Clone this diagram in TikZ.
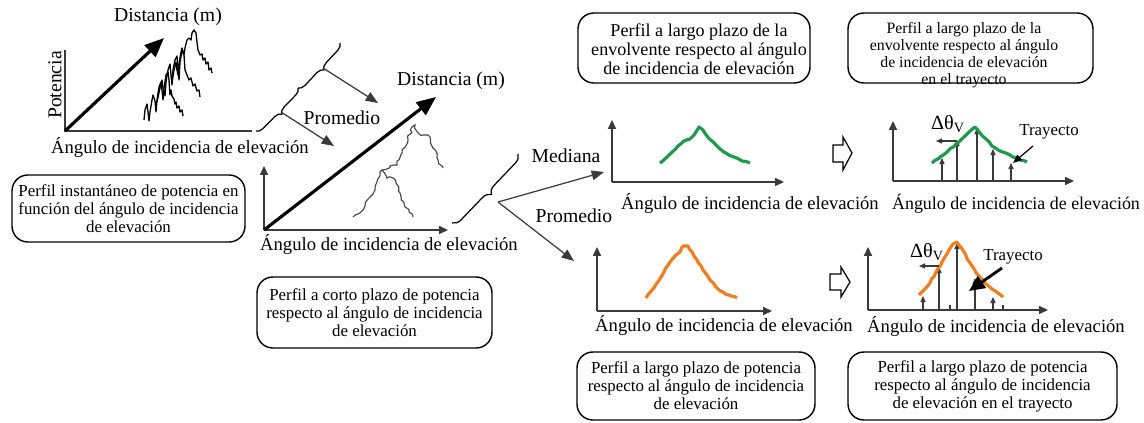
\documentclass[tikz,border=0pt]{standalone}
\usepackage{fontspec}
\setmainfont{Liberation Serif}
\usetikzlibrary{arrows.meta,decorations.pathreplacing,decorations.pathmorphing}
\definecolor{dgray}{HTML}{3A3A3A}
\definecolor{cgreen}{HTML}{1E9A4B}
\definecolor{corange}{HTML}{F07E1E}
\begin{document}
\begin{tikzpicture}[x=0.02cm,y=-0.02cm,
  lbl/.style={inner sep=0pt, font=\fontsize{11.2}{13}\selectfont},
  albl/.style={inner sep=0pt, font=\fontsize{10.6}{12}\selectfont},
  pbox/.style={draw, line width=0.8pt, rounded corners=9pt, align=center, inner sep=0pt, font=\fontsize{9.6}{10.2}\selectfont},
  ptext/.style={align=center, inner sep=0pt},
  axis/.style={draw=dgray, line width=0.8pt},
  axarr/.style={axis, -{Triangle[length=5pt,width=4.5pt]}},
  conn/.style={draw=dgray, line width=0.7pt, -{Triangle[length=7pt,width=5.5pt]}},
  bigarr/.style={draw=black, line width=1.8pt, -{Triangle[length=11pt,width=9pt]}},
  vln/.style={draw=dgray, line width=0.6pt, -{Triangle[length=3.5pt,width=3pt]}},
  br/.style={draw=black, line width=0.7pt, decorate, decoration={brace, amplitude=#1}},
  spiky/.style={draw=black, line width=0.75pt, line join=round},
  jag/.style={draw=black!72, line width=0.65pt, decorate, decoration={random steps, segment length=2pt, amplitude=0.9pt}},
  gcurve/.style={draw=cgreen, line width=1.8pt, line join=round, decorate, decoration={random steps, segment length=2.2pt, amplitude=0.35pt}},
  ocurve/.style={draw=corange, line width=1.8pt, line join=round, decorate, decoration={random steps, segment length=2.2pt, amplitude=0.35pt}},
  hollow/.style={draw=black, line width=0.7pt, line join=miter}
]
\pgfmathsetseed{7}
\useasboundingbox (0,0) rectangle (1144,423);

% ---------- Panel 1 ----------
\coordinate (o1) at (65,131);
\coordinate (y1) at (65,50);
\coordinate (x1) at (252,131);
\coordinate (d1) at (164,38);
\draw[axis] (y1) -- (o1) -- (x1);
\draw[bigarr] (o1) -- (d1);
\node[lbl] (dist1) at (168,17) {Distancia (m)};
\node[lbl, rotate=90] (pot) at (55,85) {Potencia};
\node[albl] (ang1) at (180,148) {Ángulo de incidencia de elevación};
\draw[spiky] (144,120) -- (145,110) -- (147,104) -- (148,112) -- (149,121) -- (150,112) -- (152,100) -- (153,95) -- (155,101) -- (156,112) -- (157,100) -- (159,87) -- (161,82) -- (162,90) -- (163,100) -- (164,88) -- (166,75) -- (168,72) -- (169,80) -- (170,95) -- (171,90) -- (172,96) -- (174,99) -- (175,104) -- (176,102) -- (177,108) -- (179,106) -- (180,112) -- (182,110) -- (183,116);
\draw[spiky] (157,102) -- (160,88) -- (162,80) -- (163,88) -- (165,96) -- (166,82) -- (168,70) -- (170,64) -- (171,75) -- (172,85) -- (173,70) -- (175,60) -- (177,56) -- (178,68) -- (179,80) -- (180,62) -- (182,51) -- (184,55) -- (185,70) -- (187,75) -- (189,80) -- (191,78) -- (193,86) -- (195,84) -- (197,91) -- (199,90) -- (200,97);
\draw[spiky] (172,82) -- (174,70) -- (176,62) -- (177,70) -- (178,75) -- (179,64) -- (181,52) -- (182,48) -- (184,55) -- (185,48) -- (187,40) -- (189,38) -- (191,40) -- (192,33) -- (194,30) -- (196,33) -- (197,42) -- (198,50) -- (200,55) -- (202,54) -- (203,60) -- (205,58) -- (206,64) -- (208,62) -- (209,70) -- (211,68) -- (212,73);

% braces chain
\coordinate (bA) at (256,131);
\coordinate (bB) at (298,88);
\coordinate (bC) at (340,43);
\draw[br=3.8pt] (bB) -- (bA);
\draw[br=3.8pt] (bC) -- (bB);
\coordinate (t1) at (281,112);
\coordinate (t2) at (323,68);
\coordinate (e1) at (334,146);
\coordinate (e2) at (378,103);
\draw[conn] (t1) -- (e1);
\draw[conn] (t2) -- (e2);
\node[lbl] (prom1) at (342,118) {Promedio};

\node[pbox, minimum width=4.66cm, minimum height=1.34cm] (box1) at (128.5,208.5)
  {Perfil instantáneo de potencia en\\función del ángulo de incidencia\\de elevación};

% ---------- Panel 2 ----------
\coordinate (o2) at (264,230);
\coordinate (y2) at (264,166);
\coordinate (x2) at (448,230);
\coordinate (d2) at (436,97);
\draw[axarr] (o2) -- (y2);
\draw[axarr] (o2) -- (x2);
\draw[bigarr] (o2) -- (d2);
\node[lbl] (dist2) at (451,81) {Distancia (m)};
\node[albl] (ang2) at (389,245) {Ángulo de incidencia de elevación};
\draw[jag] (353,217) -- (363,210) -- (370,197) -- (375,190) -- (380,172) -- (382,170) -- (387,178) -- (393,178) -- (400,193) -- (405,207) -- (413,217);
\draw[jag] (382,170) -- (390,166) -- (397,165) -- (402,153) -- (408,140) -- (412,127) -- (415,125) -- (418,133) -- (423,135) -- (428,135) -- (433,148) -- (438,160) -- (443,168);

\coordinate (bD) at (452,223);
\coordinate (bE) at (518,154);
\draw[br=5pt] (bE) -- (bD);
\coordinate (t3) at (498,202);
\coordinate (e3) at (604,172);
\coordinate (e4) at (574,261);
\draw[conn] (t3) -- (e3);
\draw[conn] (t3) -- (e4);
\node[lbl] (med) at (566,156) {Mediana};
\node[lbl] (prom2) at (574,216) {Promedio};

\node[pbox, minimum width=4.7cm, minimum height=1.42cm] (box2) at (374.5,312.5)
  {Perfil a corto plazo de potencia\\respecto al ángulo de incidencia\\de elevación};

% ---------- Green row ----------
\node[pbox, minimum width=4.64cm, minimum height=1.4cm] (box3) at (694,48) {};
\node[ptext, font=\fontsize{10.3}{10.8}\selectfont] (box3t) at (699,49)
  {Perfil a largo plazo de la\\envolvente respecto al ángulo\\de incidencia de elevación};
\node[pbox, minimum width=4.9cm, minimum height=1.4cm] (box4) at (970.5,48) {};
\node[ptext, font=\fontsize{9}{9.7}\selectfont] (box4t) at (964,55)
  {Perfil a largo plazo de la\\envolvente respecto al ángulo\\de incidencia de elevación\\en el trayecto};

\coordinate (og1) at (612,182);
\draw[axarr] (og1) -- (612,120);
\draw[axarr] (og1) -- (784,182);
\draw[gcurve] (660,163) -- (666,158) -- (672,152) -- (678,146) -- (684,141) -- (690,139) -- (694,135) -- (699,127) -- (703,130) -- (707,136) -- (712,141) -- (718,147) -- (726,153) -- (734,157) -- (742,161) -- (750,163);
\node[albl] (ang3) at (750,204) {Ángulo de incidencia de elevación};

\draw[hollow] (833,145) -- (843,145) -- (843,137) -- (852,153) -- (843,170) -- (843,162) -- (833,162) -- cycle;

\coordinate (og2) at (893,181);
\draw[axarr] (og2) -- (893,121);
\draw[axarr] (og2) -- (1074,181);
\foreach \xx/\yy in {942/158, 957/140, 977/128, 993/149, 1011/163}
  \draw[vln] (\xx,181) -- (\xx,\yy);
\draw[gcurve] (932,163) -- (940,157) -- (948,151) -- (956,144) -- (964,137) -- (970,131) -- (975,127) -- (980,133) -- (986,139) -- (992,146) -- (998,150) -- (1006,153) -- (1013,157) -- (1020,160) -- (1027,162);
\draw[vln] (957,141) -- (936,141);
\node[inner sep=0pt, font=\fontsize{11.5}{13}\selectfont] (dth1) at (948,124) {Δθ\textsubscript{V}};
\node[inner sep=0pt, font=\fontsize{9.6}{11}\selectfont] (tray1) at (1049,132) {Trayecto};
\coordinate (tr1) at (1013,163);
\draw[draw=black, line width=0.7pt, -{Triangle[length=5pt,width=4pt]}] (1033,146) -- (tr1);
\node[inner sep=0pt, font=\fontsize{10.2}{12}\selectfont] (ang4) at (1016,204) {Ángulo de incidencia de elevación};

% ---------- Orange row ----------
\coordinate (oo1) at (597,311);
\draw[axarr] (oo1) -- (597,247);
\draw[axarr] (oo1) -- (772,311);
\draw[ocurve] (646,298) -- (652,290) -- (658,282) -- (664,272) -- (670,262) -- (676,255) -- (680,252) -- (683,246) -- (688,246) -- (692,252) -- (697,260) -- (703,270) -- (710,280) -- (717,288) -- (725,294) -- (731,296) -- (737,298);
\node[albl] (ang5) at (724,326) {Ángulo de incidencia de elevación};

\draw[hollow] (830,274) -- (841,274) -- (841,267) -- (850,282) -- (841,297) -- (841,290) -- (830,290) -- cycle;

\coordinate (oo2) at (868,310);
\draw[axarr] (oo2) -- (868,247);
\draw[axarr] (oo2) -- (1048,310);
\foreach \xx in {950,1003}
  \draw[draw=dgray, line width=0.6pt] (\xx,310) -- (\xx,305);
\foreach \xx/\yy in {923/296, 939/267, 957/243, 975/278, 993/297}
  \draw[vln] (\xx,310) -- (\xx,\yy);
\draw[ocurve] (919,295) -- (924,290) -- (930,283) -- (936,272) -- (942,262) -- (948,252) -- (953,244) -- (957,242) -- (961,247) -- (966,256) -- (972,266) -- (978,275) -- (985,283) -- (992,289) -- (998,293) -- (1003,297);
\draw[vln] (939,266) -- (919,266);
\node[inner sep=0pt, font=\fontsize{11.5}{13}\selectfont] (dth2) at (927,252) {Δθ\textsubscript{V}};
\node[inner sep=0pt, font=\fontsize{9.6}{11}\selectfont] (tray2) at (1013,257) {Trayecto};
\coordinate (tr2) at (969,291);
\draw[draw=black, line width=1.6pt, -{Triangle[length=9pt,width=8pt]}] (1002,268) -- (tr2);
\node[albl] (ang6) at (996,327) {Ángulo de incidencia de elevación};

\node[pbox, minimum width=4.76cm, minimum height=1.36cm] (box5) at (696,386)
  {Perfil a largo plazo de potencia\\respecto al ángulo de incidencia\\de elevación};
\node[pbox, minimum width=5.38cm, minimum height=1.36cm] (box6) at (982.5,386)
  {Perfil a largo plazo de potencia\\respecto al ángulo de incidencia\\de elevación en el trayecto};
\end{tikzpicture}
\end{document}
